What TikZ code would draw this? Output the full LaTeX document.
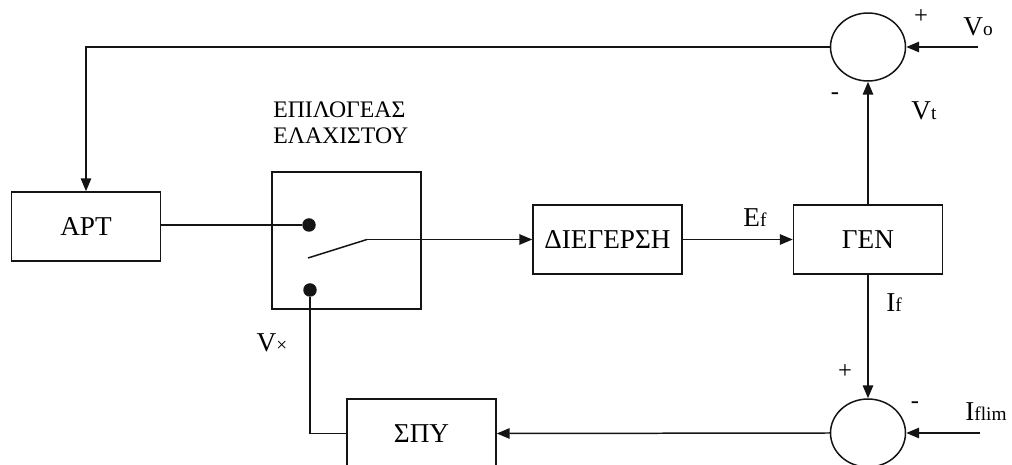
\documentclass[tikz,border=0pt]{standalone}
\usepackage{fontspec}
\setmainfont{Liberation Serif}
\usepackage{tikz}
\usetikzlibrary{shapes.geometric, arrows.meta, positioning, calc}
\definecolor{mydark}{RGB}{20,20,20}
\newcommand{\smidx}[1]{{\fontsize{11}{12}\selectfont #1}}
\tikzset{
  block/.style={rectangle, draw=mydark, fill=white,
    minimum width=2.98cm, minimum height=1.38cm, inner sep=1pt,
    font=\fontsize{15.5}{17}\selectfont, line width=0.85pt},
  selbox/.style={rectangle, draw=mydark, fill=white,
    minimum width=2.98cm, minimum height=2.74cm, line width=0.85pt},
  sumjunc/.style={ellipse, draw=mydark, minimum width=1.5cm,
    minimum height=1.36cm, line width=0.85pt},
  contact/.style={circle, fill=mydark, inner sep=0pt, minimum size=0.27cm},
  lbl/.style={font=\fontsize{15.5}{17}\selectfont, inner sep=0pt},
  sgn/.style={font=\fontsize{14}{15}\selectfont, inner sep=0pt},
  arrow/.style={-{Triangle[length=0.26cm, width=0.21cm]}, line width=0.85pt, color=mydark},
  line/.style={line width=0.85pt, color=mydark}
}

\begin{document}
\begin{tikzpicture}[x=0.02cm, y=-0.02cm]
  \clip (0,0) rectangle (1012,465);

  % Blocks
  \node[block] (apt) at (86,226.5) {APT};
  \node[selbox] (sel) at (346.5,240.5) {};
  \node[block] (dieg) at (607.5,239.5) {ΔΙΕΓΕΡΣΗ};
  \node[block] (gen) at (868,239.5) {ΓΕΝ};
  \node[block] (spy) at (421.5,433.5) {ΣΠΥ};

  % Summing junctions
  \node[sumjunc] (sumv) at (868,47) {};
  \node[sumjunc] (sumi) at (868,433) {};

  % Switch contacts and blade
  \node[contact] (dot1) at (309,225) {};
  \node[contact] (dot2) at (310,290) {};
  \coordinate (bladeA) at (308,258);
  \coordinate (bladeB) at (367,239.5);

  % Inputs
  \coordinate (vo) at (978,47);
  \coordinate (iflim) at (980,433);

  % Selector caption
  \node[lbl, font=\fontsize{13.5}{15}\selectfont, anchor=west] (cap1) at (273,110) {ΕΠΙΛΟΓΕΑΣ};
  \node[lbl, font=\fontsize{13.5}{15}\selectfont, anchor=west] (cap2) at (273,136) {ΕΛΑΧΙΣΤΟΥ};

  % Connectors
  \draw[arrow] (sumv.west) -| (apt.north);
  \draw[arrow] (vo) -- (sumv.east);
  \draw[arrow] (gen.north) -- (sumv.south);
  \draw[line] (apt.east |- dot1) -- (dot1);
  \draw[line] (bladeA) -- (bladeB);
  \draw[arrow] (bladeB) -- (dieg.west);
  \draw[arrow] (dieg.east) -- (gen.west);
  \draw[arrow] (gen.south) -- (sumi.north);
  \draw[arrow] (iflim) -- (sumi.east);
  \draw[arrow] (sumi.west) -- (spy.east);
  \draw[line] (spy.west) -| (dot2);

  % Signal labels
  \node[lbl] (lvo) at (978,27) {V\smidx{o}};
  \node[lbl] (lvt) at (924,111) {V\smidx{t}};
  \node[lbl] (lef) at (755,218) {E\smidx{f}};
  \node[lbl] (lif) at (894,303) {I\smidx{f}};
  \node[lbl] (lvx) at (272,343) {V\smidx{×}};
  \node[lbl] (lil) at (986,412) {I\smidx{flim}};

  % Signs
  \node[sgn] (s1) at (921,17) {+};
  \node[sgn] (s2) at (835,96) {-};
  \node[sgn] (s3) at (845,372) {+};
  \node[sgn] (s4) at (915,405) {-};
\end{tikzpicture}
\end{document}
